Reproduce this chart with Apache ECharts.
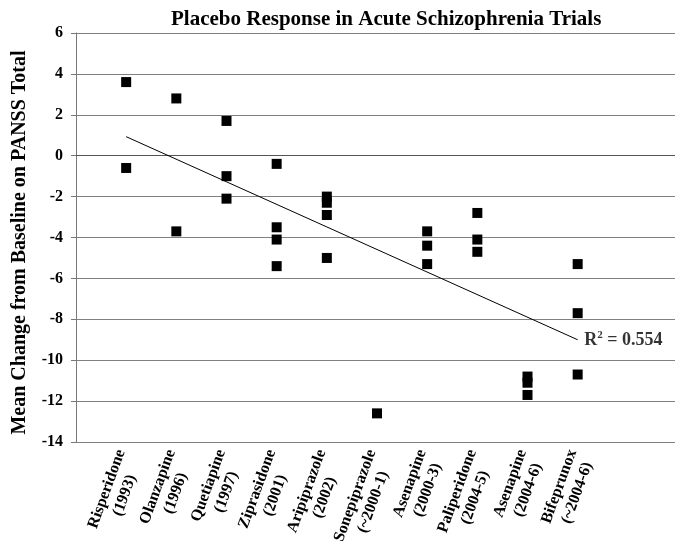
<!DOCTYPE html>
<html>
<head>
<meta charset="utf-8">
<script src="https://cdn.jsdelivr.net/npm/echarts@6/dist/echarts.min.js"></script>
<style>
html,body{margin:0;padding:0;background:#fff;}
#chart{width:675px;height:541px;}
</style>
</head>
<body>
<div id="chart"></div>
<script>
// ---- data ----
const chartTitle = 'Placebo Response in Acute Schizophrenia Trials';
const yAxisTitle = 'Mean Change from Baseline on PANSS Total';
const drugNames = ['Risperidone', 'Olanzapine', 'Quetiapine', 'Ziprasidone', 'Aripiprazole',
                   'Sonepiprazole', 'Asenapine', 'Paliperidone', 'Asenapine', 'Bifeprunox'];
const drugYears = ['(1993)', '(1996)', '(1997)', '(2001)', '(2002)',
                   '(~2000-1)', '(2000-3)', '(2004-5)', '(2004-6)', '(~2004-6)'];
const placeboChange = [
  [3.6, -0.6],
  [2.8, -3.7],
  [1.7, -1.0, -2.1],
  [-0.4, -3.5, -4.1, -5.4],
  [-2.0, -2.3, -2.9, -5.0],
  [-12.6],
  [-3.7, -4.4, -5.3],
  [-2.8, -4.1, -4.7],
  [-10.8, -11.1, -11.7],
  [-5.3, -7.7, -10.7]
];
const trendX = [1, 10];
const trendY = [0.93, -9.0];
const rSquared = '0.554';
const yTicks = { min: -14, max: 6, step: 2 };

// ---- build ----
const FONT = '"Liberation Serif", "Times New Roman", serif';
const scatterData = [];
placeboChange.forEach((vals, i) => vals.forEach(v => scatterData.push([i + 1, v])));

const chart = echarts.init(document.getElementById('chart'), null, { renderer: 'canvas' });
chart.setOption({
  animation: false,
  backgroundColor: '#fff',
  title: {
    text: chartTitle,
    left: 166,
    top: 4,
    textStyle: { fontFamily: FONT, fontWeight: 'bold', fontSize: 21, color: '#000' }
  },
  grid: { left: 76, right: -3, top: 33, bottom: 99, containLabel: false, outerBoundsMode: 'none' },
  xAxis: {
    type: 'value',
    min: 0,
    max: 12,
    interval: 1,
    splitLine: { show: false },
    axisTick: { show: false },
    axisLine: { show: true, lineStyle: { color: '#555', width: 1 } },
    axisLabel: {
      rotate: 70,
      margin: 10,
      padding: [8, 0, 0, 0],
      fontFamily: FONT,
      fontWeight: 'bold',
      fontSize: 16,
      color: '#000',
      showMinLabel: false,
      showMaxLabel: false,
      formatter: function (v) {
        const i = Math.round(v) - 1;
        if (i < 0 || i >= drugNames.length) return '';
        return '{c|' + drugNames[i] + '}\n{c|' + drugYears[i] + '}';
      },
      rich: {
        c: { align: 'center', fontFamily: FONT, fontWeight: 'bold', fontSize: 16, lineHeight: 19, color: '#000' }
      }
    }
  },
  yAxis: {
    type: 'value',
    min: yTicks.min,
    max: yTicks.max,
    interval: yTicks.step,
    name: yAxisTitle,
    nameLocation: 'middle',
    nameGap: 46,
    nameTextStyle: { fontFamily: FONT, fontWeight: 'bold', fontSize: 20, color: '#000', padding: [0, 10, 0, 0] },
    axisLine: { show: true, lineStyle: { color: '#777', width: 1 } },
    axisTick: { show: true, length: 5, lineStyle: { color: '#777' } },
    axisLabel: { margin: 13, fontFamily: FONT, fontWeight: 'bold', fontSize: 16, color: '#000' },
    splitLine: { show: true, lineStyle: { color: '#808080', width: 1 } }
  },
  series: [
    {
      type: 'scatter',
      symbol: 'rect',
      symbolSize: 10,
      itemStyle: { color: '#000', opacity: 1 },
      data: scatterData,
      z: 3
    },
    {
      type: 'line',
      data: trendX.map((x, i) => [x, trendY[i]]),
      symbol: 'none',
      lineStyle: { color: '#000', width: 1 },
      z: 2
    },
    {
      type: 'scatter',
      symbolSize: 1,
      itemStyle: { color: 'rgba(0,0,0,0)' },
      data: [[trendX[1], trendY[1]]],
      label: {
        show: true,
        position: 'right',
        distance: 6,
        formatter: '{r|R}{s|2}{r| = ' + rSquared + '}',
        rich: {
          r: { fontFamily: FONT, fontWeight: 'bold', fontSize: 18, lineHeight: 20, color: '#000', verticalAlign: 'bottom' },
          s: { fontFamily: FONT, fontWeight: 'bold', fontSize: 11, lineHeight: 11, color: '#000', verticalAlign: 'top' }
        }
      }
    }
  ]
});
</script>
</body>
</html>
